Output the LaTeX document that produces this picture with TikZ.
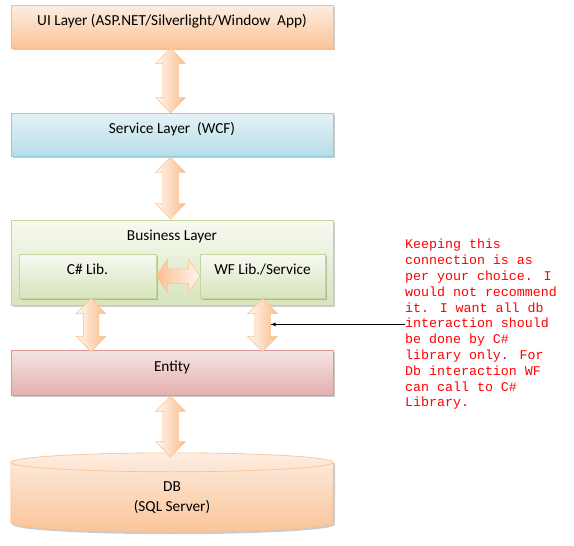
\documentclass[tikz,border=0pt]{standalone}
\usepackage{fontspec}
\setmainfont{Carlito}
\newfontfamily\notefont{Liberation Mono}
\usetikzlibrary{calc,shapes.arrows,shadows}
\definecolor{uitop}{RGB}{253,237,224}
\definecolor{uibot}{RGB}{250,196,152}
\definecolor{uiline}{RGB}{250,191,143}
\definecolor{svtop}{RGB}{228,242,247}
\definecolor{svbot}{RGB}{183,221,232}
\definecolor{svline}{RGB}{147,205,221}
\definecolor{bztop}{RGB}{247,250,241}
\definecolor{bzbot}{RGB}{215,228,189}
\definecolor{bzline}{RGB}{195,214,155}
\definecolor{entop}{RGB}{245,228,227}
\definecolor{enbot}{RGB}{228,176,175}
\definecolor{enline}{RGB}{217,150,148}
\definecolor{artop}{RGB}{255,246,238}
\definecolor{arbot}{RGB}{249,191,143}
\definecolor{notered}{RGB}{255,0,0}
\newcommand{\linkarrow}[4][]{%
  \path let \p1=#3, \p2=#4,
    \n1={veclen(\x2-\x1,\y2-\y1)}, \n2={atan2(\y2-\y1,\x2-\x1)} in
    node[fatarrow, minimum height=\n1, rotate=\n2, #1] (#2) at ($(\p1)!0.5!(\p2)$) {};}

\begin{document}
\begin{tikzpicture}[x=1pt,y=-1pt,
  layer/.style={draw, line width=0.6pt, minimum width=322pt, minimum height=43pt,
    inner sep=0pt, font=\fontsize{15.3}{18}\selectfont, text height=10pt, text depth=13pt,
    drop shadow={shadow xshift=2pt, shadow yshift=-2pt, fill=black, opacity=0.2}},
  sublayer/.style={layer, minimum width=137pt, minimum height=44pt},
  rim/.style={x radius=161pt, y radius=9.5pt},
  fatarrow/.style={double arrow, draw=uiline, line width=0.5pt, inner xsep=0pt, inner ysep=7.5pt,
    double arrow head extend=7pt, double arrow tip angle=88,
    left color=artop, right color=arbot}]
\useasboundingbox (0,0) rectangle (574,546);
% layers
\node [layer, draw=uiline, top color=uitop, bottom color=uibot] (ui) at (172,26.5)
  {UI Layer (ASP.NET/Silverlight/Window~~App)};
\node [layer, draw=svline, top color=svtop, bottom color=svbot] (svc) at (172,134.5)
  {Service Layer~ (WCF)};
\node [layer, draw=bzline, top color=bztop, bottom color=bzbot, minimum height=85pt] (biz) at (172,262.5) {};
\node [font=\fontsize{15.3}{18}\selectfont, inner sep=0pt] (bizlabel) at (172,236) {Business Layer};
\node [sublayer, draw=bzline, top color=bztop, bottom color=bzbot] (cs) at (87.5,276) {C\# Lib.};
\node [sublayer, draw=bzline, top color=bztop, bottom color=bzbot, minimum width=125pt] (wf) at (262.5,276) {WF Lib./Service};
\node [layer, draw=enline, top color=entop, bottom color=enbot, minimum height=45pt] (entity) at (172,372.5) {Entity};
% database
\node [minimum width=322pt, minimum height=60pt, inner sep=0pt] (db) at (172,492.5) {};
\path [draw=uiline, line width=0.6pt, top color=uitop, bottom color=uibot,
  drop shadow={shadow xshift=2pt, shadow yshift=-2pt, fill=black, opacity=0.2}]
  (db.north west) -- (db.south west) arc [start angle=180, end angle=360, rim]
  -- (db.north east) arc [start angle=0, end angle=180, rim] -- cycle;
\draw [uiline, line width=0.6pt] (db.north west) arc [start angle=180, end angle=360, rim];
\node [font=\fontsize{15.3}{20}\selectfont, inner sep=0pt, align=center] (dblabel) at (172,498)
  {DB\\(SQL Server)};
% links
\linkarrow{a1}{(170.5,48)}{(170.5,113)}
\linkarrow{a2}{(170.5,157)}{(170.5,219)}
\linkarrow[inner ysep=7pt, double arrow head extend=9pt, double arrow tip angle=112,
  left color=arbot, right color=artop]{a3}{(cs.east)}{(wf.west)}
\linkarrow{a4}{($(cs.south)+(3.5,0)$)}{($(cs.south |- entity.north)+(3.5,2)$)}
\linkarrow{a5}{(wf.south)}{($(wf.south |- entity.north)+(0,2)$)}
\linkarrow{a6}{(170.5,396)}{(170.5,457)}
% note
\node [anchor=north west, inner sep=0pt, align=left, text=notered,
  font=\notefont\fontsize{13.3}{15.8}\selectfont] (note) at (405,239)
  {Keeping this\\connection is as\\per your choice. I\\would not recommend\\it. I want all db\\interaction should\\be done by C\#\\library only. For\\Db interaction WF\\can call to C\#\\Library.};
\draw [line width=0.8pt, -latex] (note.west) -- (note.west -| a5.north);
\end{tikzpicture}
\end{document}
